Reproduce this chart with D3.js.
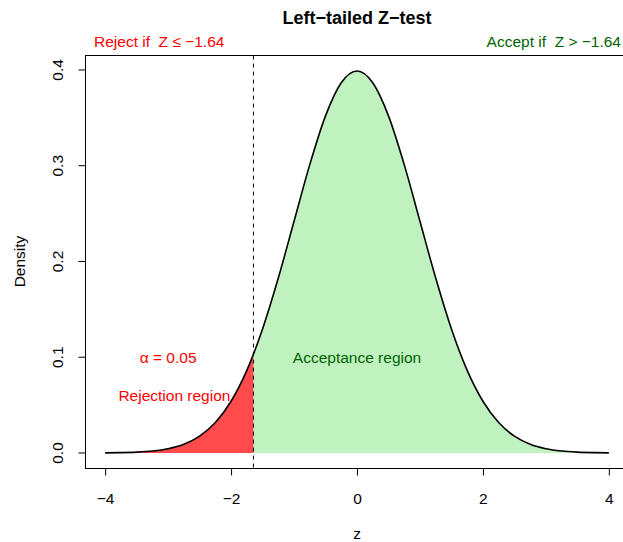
<!DOCTYPE html>
<html><head><meta charset="utf-8">
<script src="https://cdn.jsdelivr.net/npm/d3@7"></script>
<style>body{margin:0;background:#fff}svg{display:block;font-family:"Liberation Sans",Arial,sans-serif}text{white-space:pre}</style>
</head><body>
<script>
// Standard normal density read at z steps (curve of the chart)
const zValues = [-4,-3.75,-3.5,-3.25,-3,-2.75,-2.5,-2.25,-2,-1.75,-1.645,-1.5,-1.25,-1,-0.75,-0.5,-0.25,0,0.25,0.5,0.75,1,1.25,1.5,1.75,2,2.25,2.5,2.75,3,3.25,3.5,3.75,4];
const densityValues = [0.000134,0.000353,0.000873,0.002029,0.004432,0.009094,0.017528,0.031740,0.053991,0.086277,0.103136,0.129518,0.182649,0.241971,0.301137,0.352065,0.386668,0.398942,0.386668,0.352065,0.301137,0.241971,0.182649,0.129518,0.086277,0.053991,0.031740,0.017528,0.009094,0.004432,0.002029,0.000873,0.000353,0.000134];
const criticalZ = -1.645;
const xTicks = [-4,-2,0,2,4];
const yTicks = [0.0,0.1,0.2,0.3,0.4];
const yTickLabels = ["0.0","0.1","0.2","0.3","0.4"];

const W = 623, H = 542, FS = 15.5;
const svg = d3.select("body").append("svg").attr("width", W).attr("height", H);

const x = d3.scaleLinear().domain([-4.32, 4.32]).range([85, 629]);
const y = d3.scaleLinear().domain([-0.016, 0.415]).range([468.3, 55.6]);

const pts = zValues.map((z,i)=>({z, d: densityValues[i]}));
const left = pts.filter(p => p.z <= criticalZ);
const right = pts.filter(p => p.z >= criticalZ);

const area = d3.area().x(p=>x(p.z)).y0(y(0)).y1(p=>y(p.d)).curve(d3.curveMonotoneX);
const line = d3.line().x(p=>x(p.z)).y(p=>y(p.d)).curve(d3.curveMonotoneX);

svg.append("path").attr("d", area(right)).attr("fill", "rgb(192,242,192)");
svg.append("path").attr("d", area(left)).attr("fill", "rgb(255,75,75)");
svg.append("path").attr("d", line(pts)).attr("fill", "none").attr("stroke", "#000").attr("stroke-width", 1.6);

// dashed vertical line
svg.append("line").attr("x1", x(criticalZ)).attr("x2", x(criticalZ))
  .attr("y1", y.range()[1]).attr("y2", y.range()[0])
  .attr("stroke", "#000").attr("stroke-width", 1).attr("stroke-dasharray", "4,4");

// box
svg.append("rect").attr("x", 85.5).attr("y", 55.5).attr("width", 629-85).attr("height", 468-55)
  .attr("fill", "none").attr("stroke", "#000").attr("stroke-width", 1);

// x axis
const xAxis = d3.axisBottom(x).tickValues(xTicks).tickSize(7).tickPadding(17)
  .tickFormat(d => d < 0 ? "\u2212" + Math.abs(d) : String(d));
const gx = svg.append("g").attr("transform", "translate(0,468.5)").call(xAxis);
gx.select(".domain").attr("d", `M${x(-4)},0H${x(4)}`);
gx.selectAll("text").attr("font-size", FS).attr("fill", "#000").attr("font-family", "Liberation Sans, Arial, sans-serif");

// y axis
const yAxis = d3.axisLeft(y).tickValues(yTicks).tickSize(7).tickFormat((d,i)=>yTickLabels[i]);
const gy = svg.append("g").attr("transform", "translate(85.5,0)").call(yAxis);
gy.select(".domain").attr("d", `M0,${y(0)}V${y(0.4)}`);
gy.selectAll(".tick").attr("transform", "translate(0,0)");
gy.selectAll(".tick line").attr("y1", d=>y(d)).attr("y2", d=>y(d));
gy.selectAll("text").attr("font-size", FS).attr("fill", "#000").attr("font-family", "Liberation Sans, Arial, sans-serif")
  .attr("text-anchor", "middle").attr("dy", null).attr("x", null).attr("y", 0)
  .attr("transform", d => `translate(-28,${y(d)}) rotate(-90)`).attr("dominant-baseline", "central");

// labels
svg.append("text").attr("x", 357).attr("y", 539).attr("text-anchor", "middle").attr("font-size", FS).text("z");
svg.append("text").attr("transform", `translate(25,${(55+468)/2}) rotate(-90)`).attr("text-anchor", "middle")
  .attr("font-size", FS).text("Density");
svg.append("text").attr("x", 357).attr("y", 24).attr("text-anchor", "middle").attr("font-size", 18)
  .attr("font-weight", "bold").text("Left\u2212tailed Z\u2212test");

svg.append("text").attr("x", 94).attr("y", 47).attr("font-size", FS).attr("fill", "#FF0000")
  .text("Reject if  Z \u2264 \u22121.64");
svg.append("text").attr("x", 621).attr("y", 47).attr("text-anchor", "end").attr("font-size", FS).attr("fill", "#006400")
  .text("Accept if  Z > \u22121.64");

svg.append("text").attr("x", x(-3.0)).attr("y", y(0.1)).attr("dy", "0.35em").attr("text-anchor", "middle")
  .attr("font-size", FS).attr("fill", "#FF0000").text("\u03b1 = 0.05");
svg.append("text").attr("x", x(-2.9)).attr("y", y(0.06)).attr("dy", "0.35em").attr("text-anchor", "middle")
  .attr("font-size", FS).attr("fill", "#FF0000").text("Rejection region");
svg.append("text").attr("x", x(0)).attr("y", y(0.1)).attr("dy", "0.35em").attr("text-anchor", "middle")
  .attr("font-size", FS).attr("fill", "#006400").text("Acceptance region");
</script>
</body></html>
